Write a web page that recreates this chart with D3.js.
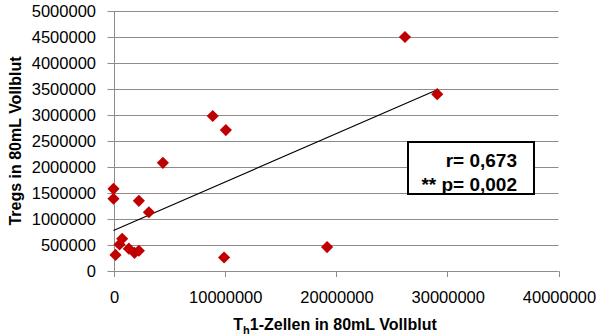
<!DOCTYPE html>
<html>
<head>
<meta charset="utf-8">
<script src="https://cdn.jsdelivr.net/npm/d3@7"></script>
<style>
  html, body { margin: 0; padding: 0; background: #fff; }
  svg { display: block; }
  text { font-family: "Liberation Sans", Arial, sans-serif; fill: #000; }
</style>
</head>
<body>
<svg id="chart" width="596" height="336"></svg>
<script>
// Th1 cells (x) vs. Tregs (y) per 80 mL whole blood
const th1Cells = [4440000, 0, 0, 2280000, 3180000, 780000, 540000, 180000, 1380000,
                  1890000, 2280000, 9940000, 19200000, 8920000, 10100000, 26200000, 29100000];
const tregs    = [2080000, 1580000, 1390000, 1350000, 1130000, 620000, 510000, 310000, 430000,
                  350000, 390000, 260000, 460000, 2980000, 2710000, 4500000, 3400000];

const xTicks = [0, 10000000, 20000000, 30000000, 40000000];
const yTicks = [0, 500000, 1000000, 1500000, 2000000, 2500000, 3000000, 3500000, 4000000, 4500000, 5000000];

const statLines = ["r= 0,673", "** p= 0,002"];
const xTitle = ["T", "h", "1-Zellen in 80mL Vollblut"];
const yTitle = "Tregs in 80mL Vollblut";

const svg = d3.select("#chart");
const plotLeft = 113.5, plotRight = 558.5, plotTop = 11, plotBottom = 271;

const x = d3.scaleLinear().domain([0, 40000000]).range([plotLeft, plotRight]);
const y = d3.scaleLinear().domain([0, 5000000]).range([plotBottom, plotTop]);

const grid = "#8c8c8c";

// horizontal gridlines (with outside tick stubs)
svg.append("g").selectAll("line").data(yTicks).join("line")
  .attr("x1", plotLeft - 6).attr("x2", plotRight)
  .attr("y1", d => Math.round(y(d)) + 0.5).attr("y2", d => Math.round(y(d)) + 0.5)
  .attr("stroke", grid).attr("stroke-width", 1);

// vertical axis line
svg.append("line")
  .attr("x1", Math.round(plotLeft) + 0.5).attr("x2", Math.round(plotLeft) + 0.5)
  .attr("y1", plotTop).attr("y2", plotBottom + 6)
  .attr("stroke", grid);

// x tick marks
svg.append("g").selectAll("line").data(xTicks.slice(1)).join("line")
  .attr("x1", d => Math.round(x(d)) + 0.5).attr("x2", d => Math.round(x(d)) + 0.5)
  .attr("y1", plotBottom).attr("y2", plotBottom + 6)
  .attr("stroke", grid);

// y tick labels
svg.append("g").selectAll("text").data(yTicks).join("text")
  .attr("x", 96).attr("y", d => y(d) + 6)
  .attr("text-anchor", "end")
  .style("font-size", "16.5px")
  .text(d => d3.format("d")(d));

// x tick labels
svg.append("g").selectAll("text").data(xTicks).join("text")
  .attr("x", d => x(d) + 1).attr("y", 303)
  .attr("text-anchor", "middle")
  .style("font-size", "16.5px")
  .text(d => d3.format("d")(d));

// least-squares trendline over the data range
const n = th1Cells.length;
const mx = d3.mean(th1Cells), my = d3.mean(tregs);
let sxy = 0, sxx = 0;
for (let i = 0; i < n; i++) {
  sxy += (th1Cells[i] - mx) * (tregs[i] - my);
  sxx += (th1Cells[i] - mx) ** 2;
}
const slope = sxy / sxx, intercept = my - slope * mx;
const xMin = d3.min(th1Cells), xMax = d3.max(th1Cells);
svg.append("line")
  .attr("x1", x(xMin)).attr("y1", y(intercept + slope * xMin))
  .attr("x2", x(xMax)).attr("y2", y(intercept + slope * xMax))
  .attr("stroke", "#000").attr("stroke-width", 1.1);

// diamond markers
const diamond = d3.symbol(d3.symbolSquare, 74);
svg.append("g").selectAll("path").data(th1Cells.map((v, i) => [v, tregs[i]])).join("path")
  .attr("d", diamond)
  .attr("transform", d => `translate(${x(d[0])},${y(d[1])}) rotate(45)`)
  .attr("fill", "#c00000");

// statistics box
svg.append("rect")
  .attr("x", 408).attr("y", 142).attr("width", 126).attr("height", 52)
  .attr("fill", "#fff").attr("stroke", "#000").attr("stroke-width", 2);
svg.append("g").selectAll("text").data(statLines).join("text")
  .attr("x", 517).attr("y", (d, i) => 166.5 + i * 24)
  .attr("text-anchor", "end")
  .style("font-size", "19px").style("font-weight", "bold")
  .text(d => d);

// axis titles
const xt = svg.append("text")
  .attr("x", 335).attr("y", 330)
  .attr("text-anchor", "middle")
  .style("font-size", "16px").style("font-weight", "bold");
xt.append("tspan").text(xTitle[0]);
xt.append("tspan").attr("dy", 4).style("font-size", "11px").text(xTitle[1]);
xt.append("tspan").attr("dy", -4).text(xTitle[2]);

svg.append("text")
  .attr("transform", `translate(20.5,${(plotTop + plotBottom) / 2}) rotate(-90)`)
  .attr("text-anchor", "middle")
  .style("font-size", "16px").style("font-weight", "bold")
  .text(yTitle);
</script>
</body>
</html>
